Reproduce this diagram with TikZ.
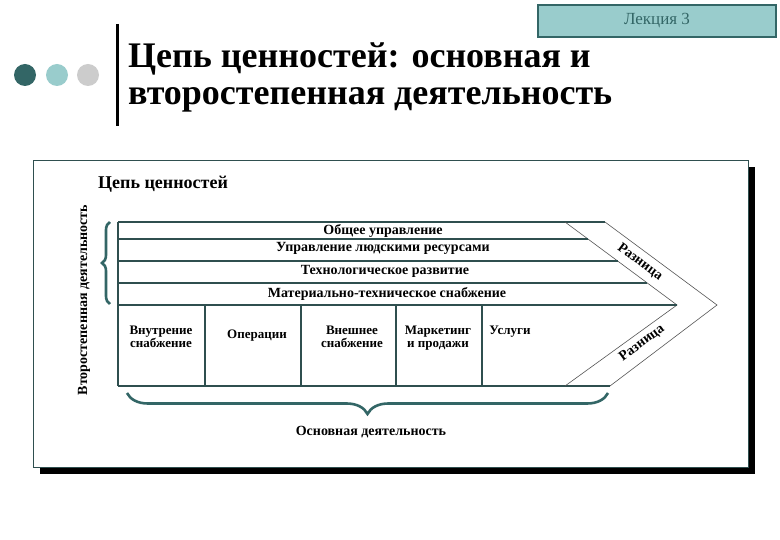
\documentclass[tikz,border=0pt]{standalone}
\usepackage{fontspec}
\setmainfont{Liberation Serif}
\usetikzlibrary{decorations.pathreplacing}
\definecolor{tealdark}{HTML}{336666}
\definecolor{teallight}{HTML}{99CCCC}
\definecolor{dotgray}{HTML}{CCCCCC}
\definecolor{linecol}{HTML}{2F4F4F}
\definecolor{slantcol}{HTML}{555555}
\begin{document}
\begin{tikzpicture}[x=1pt,y=-1pt,
  rowtext/.style={font=\fontsize{14}{14}\selectfont\bfseries, inner sep=0pt},
  coltext/.style={font=\fontsize{13}{13}\selectfont\bfseries, inner sep=0pt, align=center, anchor=north},
  rowline/.style={draw=linecol, line width=1.1pt},
  slant/.style={draw=slantcol, line width=0.6pt},
  bracestyle/.style={draw=tealdark, line width=2.6pt, decorate},
  dot/.style={circle, minimum size=22pt, inner sep=0pt}]
\useasboundingbox (0,0) rectangle (780,540);
\fill[white] (0,0) rectangle (780,540);

% header box
\node[draw=tealdark, line width=1.3pt, fill=teallight, minimum width=238pt, minimum height=32pt, inner sep=0pt,
  font=\fontsize{17}{19}\selectfont, text=tealdark] (lecture) at (657,21) {Лекция 3};

% dots
\node[dot, fill=tealdark] (d1) at (25,75) {};
\node[dot, fill=teallight] (d2) at (57,75) {};
\node[dot, fill=dotgray] (d3) at (88,75) {};

% vertical bar
\coordinate (bart) at (117,24);
\coordinate (barb) at (117,126);
\draw[line width=3pt, black] (bart) -- (barb);

% title
\node[anchor=north west, inner sep=0pt, align=left, font=\fontsize{36}{36.5}\selectfont\bfseries] (title) at (128,43)
  {Цепь ценностей: основная и\\второстепенная деятельность};

% panel with shadow
\fill[black] (40,167) rectangle (755,474);
\draw[fill=white, draw=linecol, line width=0.8pt] (33,160) rectangle (748,467);

\node[anchor=west, inner sep=0pt, font=\fontsize{18}{20}\selectfont\bfseries] (vc) at (98,184) {Цепь ценностей};

\node[rotate=90, inner sep=0pt, font=\fontsize{14}{14}\selectfont\bfseries] (second) at (84,300) {Второстепенная деятельность};

% chevron
\coordinate (tl) at (118,222);
\coordinate (tr) at (605,222);
\coordinate (tip) at (717,305);
\coordinate (br) at (610,386);
\coordinate (bl) at (118,386);
\coordinate (itop) at (565,222);
\coordinate (itip) at (677,305);
\coordinate (ibot) at (565,386);

\draw[rowline] (tl) -- (tr);
\draw[rowline] (bl) -- (br);
\draw[rowline] (tl) -- (bl);
\draw[slant] (tr) -- (tip) -- (br);
\draw[slant] (itop) -- (itip) -- (ibot);
\draw[rowline] (118,239) -- (588,239);
\draw[rowline] (118,261) -- (617.6,261);
\draw[rowline] (118,283) -- (647.3,283);
\draw[rowline] (118,305) -- (itip);
\foreach \x in {205,301,396,482} \draw[rowline] (\x,305) -- (\x,386);

\node[rowtext] (r1) at (383,231) {Общее управление};
\node[rowtext] (r2) at (383,248) {Управление людскими ресурсами};
\node[rowtext] (r3) at (385,271) {Технологическое развитие};
\node[rowtext] (r4) at (387,294) {Материально-техническое снабжение};

\node[coltext] (c1) at (161,326) {Внутрение\\снабжение};
\node[coltext] (c2) at (257,330) {Операции};
\node[coltext] (c3) at (352,326) {Внешнее\\снабжение};
\node[coltext] (c4) at (438,326) {Маркетинг\\и продажи};
\node[coltext] (c5) at (510,326) {Услуги};

\node[rowtext, rotate=-36.5] (m1) at (640,262) {Разница};
\node[rowtext, rotate=36.5] (m2) at (642,343) {Разница};

% braces
\draw[bracestyle, decoration={brace, amplitude=8pt}] (110,304) -- (110,222);
\draw[bracestyle, decoration={brace, amplitude=21pt}] (608,393) -- (127,393);

\node[rowtext] (main) at (371,432) {Основная деятельность};
\end{tikzpicture}
\end{document}
